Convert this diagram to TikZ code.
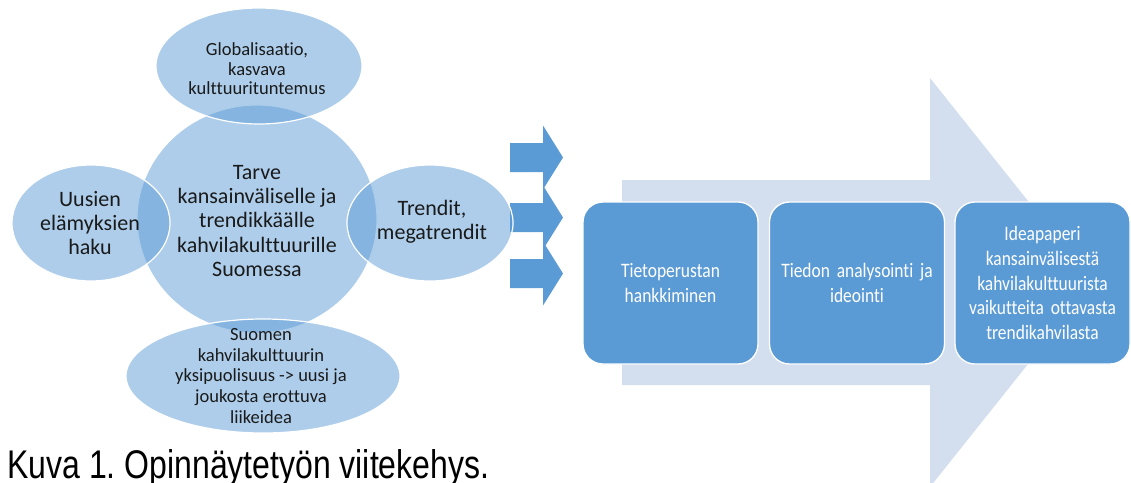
\documentclass[tikz,border=0pt]{standalone}
\usepackage{fontspec}
\setmainfont{Carlito}[Ligatures=NoCommon]
\newfontfamily\capfont[FakeStretch=0.8,Ligatures=NoCommon]{Liberation Sans}
\newfontfamily\boxfont[FakeStretch=0.85,Ligatures=NoCommon]{Carlito}
\usetikzlibrary{shapes.geometric}
\definecolor{acc}{HTML}{5B9BD5}
\definecolor{pale}{HTML}{D3DEEF}
\definecolor{ink}{HTML}{1A1A1A}
\frenchspacing
\begin{document}
\begin{tikzpicture}[x=0.75pt,y=-0.75pt,
  bub/.style={ellipse, fill=acc, fill opacity=0.5, draw=white, line width=0.9pt, inner sep=0pt},
  bigtxt/.style={text=ink, align=center, font=\fontsize{16.5}{18.2}\selectfont, inner sep=0pt},
  smalltxt/.style={text=ink, align=center, font=\fontsize{13.9}{14.6}\selectfont, inner sep=0pt},
  stepbox/.style={rectangle, rounded corners=15pt, fill=acc, draw=white, line width=1pt,
    minimum width=131.25pt, minimum height=121.5pt, inner sep=3pt, text width=124pt,
    text=white, align=center, font=\boxfont\fontsize{15.4}{18.4}\selectfont},
  smallarrow/.style={fill=acc},
  bigarrow/.style={fill=pale}
]
\useasboundingbox (0,0) rectangle (1131,482);

% big background arrow
\fill[bigarrow] (622,180) -- (930,180) -- (930,78) -- (1093,282.5) -- (930,487) -- (930,385) -- (622,385) -- cycle;

% three small arrows
\foreach \c in {157.5,217.5,273.5}{
  \fill[smallarrow] (510,\c-14.5) -- (543,\c-14.5) -- (543,\c-32) -- (563,\c) -- (543,\c+32) -- (543,\c+14.5) -- (510,\c+14.5) -- cycle;
}

% bubbles
\node[bub, minimum width=180pt, minimum height=171pt] (mid) at (257,219) {};
\node[bub, minimum width=154.5pt, minimum height=87pt] (top) at (259,66) {};
\node[bub, minimum width=118.5pt, minimum height=87pt] (lft) at (91,223) {};
\node[bub, minimum width=124.5pt, minimum height=87pt] (rgt) at (430,223) {};
\node[bub, minimum width=205.5pt, minimum height=85.5pt] (bot) at (263,376) {};

% bubble texts
\node[bigtxt] (midt) at (257,221) {Tarve\\kansainväliselle ja\\trendikkäälle\\kahvilakulttuurille\\Suomessa};
\node[smalltxt] (topt) at (257,69) {Globalisaatio,\\kasvava\\kulttuurituntemus};
\node[bigtxt] (lftt) at (90,223) {Uusien\\elämyksien\\haku};
\node[bigtxt] (rgtt) at (432,221.5) {Trendit,\\megatrendit};
\node[smalltxt, font=\fontsize{13.9}{15.4}\selectfont] (bott) at (261,376) {Suomen\\kahvilakulttuurin\\yksipuolisuus -> uusi ja\\joukosta erottuva\\liikeidea};

% process boxes
\node[stepbox] (b1) at (670.5,283) {Tietoperustan\\hankkiminen};
\node[stepbox] (b2) at (857,283) {Tiedon analysointi ja\\ideointi};
\node[stepbox] (b3) at (1042.5,283) {Ideapaperi\\kansainvälisestä\\kahvilakulttuurista\\vaikutteita ottavasta\\trendikahvilasta};

% caption
\node[anchor=base west, inner sep=0pt, font=\capfont\fontsize{30}{33}\selectfont] (cap) at (7,478) {Kuva 1. Opinnäytetyön viitekehys.};
\end{tikzpicture}
\end{document}
